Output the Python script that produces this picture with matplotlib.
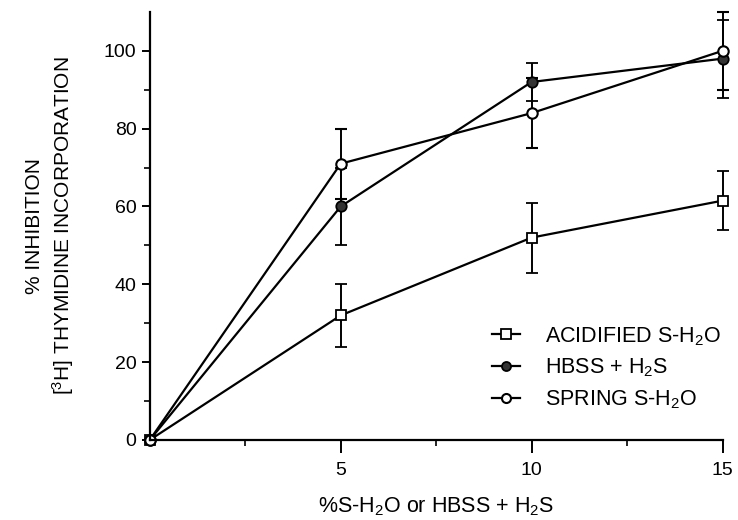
import numpy as np
import matplotlib.pyplot as plt
from matplotlib.ticker import FixedLocator
from matplotlib.lines import Line2D

plt.rcParams['font.family'] = ['Liberation Sans', 'DejaVu Sans']
plt.rcParams['mathtext.fontset'] = 'custom'
plt.rcParams['mathtext.rm'] = 'Liberation Sans'
plt.rcParams['mathtext.it'] = 'Liberation Sans'

# datos
dosis = [0, 5, 10, 15]
acid = [0, 32, 52, 61.5]
acid_err = [0, 8, 9, 7.5]
hbss = [0, 60, 92, 98]
hbss_err = [0, 10, 5, 10]
spring = [0, 71, 84, 100]
spring_err = [0, 9, 9, 10]
etiquetas = ['ACIDIFIED S-H$_2$O', 'HBSS + H$_2$S', 'SPRING S-H$_2$O']

fig = plt.figure(figsize=(7.38, 5.2), dpi=100)
ax = fig.add_axes([0.203, 0.154, 0.776, 0.823])

kw = dict(color='black', lw=1.6, elinewidth=1.4, capsize=4, capthick=1.4, clip_on=False)
estilos = [dict(marker='s', ms=7.5, mfc='white', mec='black', mew=1.3),
           dict(marker='o', ms=7.5, mfc='#333333', mec='black', mew=1.3),
           dict(marker='o', ms=7.5, mfc='white', mec='black', mew=1.5)]
for y, e, st in zip([acid, hbss, spring], [acid_err, hbss_err, spring_err], estilos):
    ax.errorbar(dosis, y, yerr=e, **st, **kw)

ax.set_xlim(0, 15)
ax.set_ylim(0, 110)
ax.spines['top'].set_visible(False)
ax.spines['right'].set_visible(False)
ax.spines['left'].set_linewidth(1.6)
ax.spines['bottom'].set_linewidth(1.6)

ax.set_yticks([0, 20, 40, 60, 80, 100])
ax.yaxis.set_minor_locator(FixedLocator([10, 30, 50, 70, 90]))
ax.set_xticks([5, 10, 15])
ax.xaxis.set_minor_locator(FixedLocator([2.5, 7.5, 12.5]))
ax.tick_params(axis='both', which='major', direction='out', length=6, width=1.4, labelsize=14)
ax.tick_params(axis='both', which='minor', direction='out', length=4, width=1.2)
ax.tick_params(axis='x', which='major', length=9, pad=7)

ax.set_xlabel('%S-H$_2$O or HBSS + H$_2$S', fontsize=15.5, labelpad=12)
ax.set_ylabel('% INHIBITION\n[$^3$H] THYMIDINE INCORPORATION', fontsize=15, labelpad=20,
              linespacing=1.3)

# leyenda sin barras de error
handles = [Line2D([], [], color='black', lw=1.6, **st) for st in estilos]
for h in handles:
    h.set_markersize(6.5)
fig.legend(handles, etiquetas, loc='upper left', bbox_to_anchor=(492 / 738, 1 - 325 / 520),
           frameon=False, fontsize=15.5, handlelength=1.3, handletextpad=1.15,
           labelspacing=0.42, borderpad=0, borderaxespad=0)

plt.savefig('out.png', dpi=100)
